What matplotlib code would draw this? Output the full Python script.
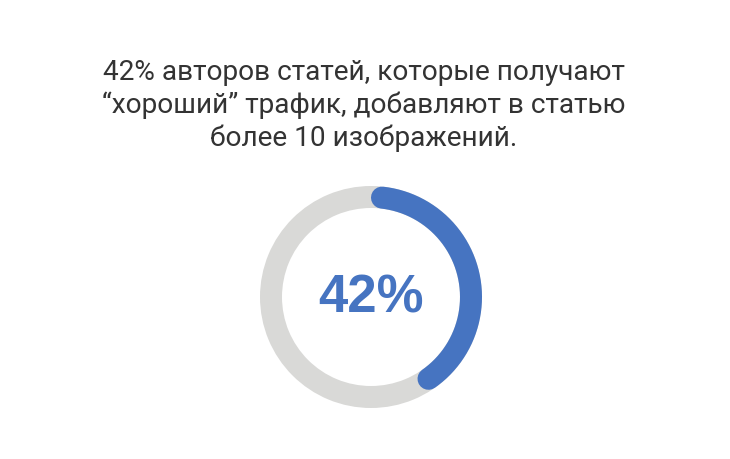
import numpy as np
import matplotlib
matplotlib.use("Agg")
import matplotlib.pyplot as plt
from matplotlib.patches import Wedge

title_lines = ["42% авторов статей, которые получают",
               "\u201cхороший\u201d трафик, добавляют в статью",
               "более 10 изображений."]
share = 0.42
center_label = "42%"

W, H = 730, 460
fig = plt.figure(figsize=(W / 100, H / 100), dpi=100)
ax = fig.add_axes([0, 0, 1, 1])
ax.set_xlim(0, W)
ax.set_ylim(H, 0)
ax.axis("off")

cx, cy = 371, 298
r_mid = 100
ring_w = 22

# background ring
ax.add_patch(Wedge((cx, cy), r_mid + ring_w / 2, 0, 360, width=ring_w,
                   facecolor="#D9D9D7", edgecolor="none"))

# blue arc with round caps, inset so total length matches the share
cap = (ring_w / 2) / r_mid
a0 = cap
a1 = share * 2 * np.pi - cap
t = np.linspace(a0, a1, 300)
xs = cx + r_mid * np.sin(t)
ys = cy - r_mid * np.cos(t)
ax.plot(xs, ys, color="#4674C1", linewidth=ring_w * 72 / 100,
        solid_capstyle="round")

ax.text(cx, cy + 1, center_label, ha="center", va="center",
        fontsize=38, fontweight="bold", color="#4674C1",
        family="Liberation Sans")

for i, line in enumerate(title_lines):
    ax.text(364, 73 + i * 32.5, line, ha="center", va="center",
            fontsize=20.2, color="#333333", family="Roboto")

fig.savefig("out.png", dpi=100, facecolor="white")
